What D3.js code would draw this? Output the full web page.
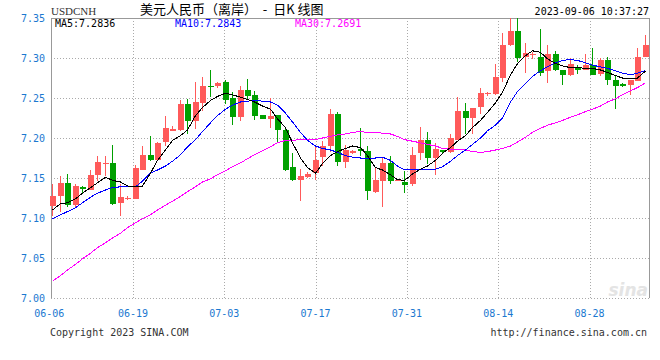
<!DOCTYPE html>
<html>
<head>
<meta charset="utf-8">
<script src="https://cdn.jsdelivr.net/npm/d3@7/dist/d3.min.js"></script>
<style>
  body { margin: 0; background: #fff; }
  svg text { font-family: "DejaVu Sans Mono", monospace; font-size: 10px; }
</style>
</head>
<body>
<div id="chart"></div>
<script>
// daily candles, USDCNH 06-06 .. 09-06
var opens = [7.1154,7.127,7.144,7.1167,7.1387,7.1354,7.1533,7.1686,7.1688,7.1187,
  7.1237,7.1242,7.1604,7.1792,7.1729,7.1946,7.2088,7.2104,7.2429,7.2208,
  7.2437,7.2654,7.2646,7.2696,7.2496,7.2258,7.2604,7.2542,7.2292,7.2242,
  7.2292,7.2104,7.1633,7.1471,7.1508,7.1563,7.1763,7.1896,7.2304,7.1696,
  7.1817,7.1863,7.1842,7.1329,7.1467,7.1688,7.1458,7.145,7.1429,7.1813,
  7.1979,7.1746,7.1854,7.182,7.1979,7.2342,7.2246,7.2383,7.2546,7.255,
  7.2746,7.3163,7.3342,7.3016,7.3033,7.3013,7.2833,7.3054,7.2854,7.2792,
  7.2888,7.2846,7.2917,7.28,7.2971,7.2729,7.2675,7.2667,7.2708,7.3008];
var highs = [7.143,7.153,7.155,7.1429,7.1396,7.1604,7.1779,7.1779,7.1917,7.143,
  7.127,7.1667,7.1896,7.2029,7.1946,7.2279,7.2154,7.247,7.2488,7.2696,
  7.2763,7.2854,7.2704,7.2729,7.2571,7.2654,7.2742,7.2583,7.2292,7.25,
  7.2292,7.2137,7.1813,7.1613,7.1571,7.1896,7.1958,7.2367,7.2321,7.1917,
  7.1854,7.2125,7.1896,7.1638,7.1763,7.1771,7.1471,7.1583,7.1883,7.2133,
  7.2075,7.1938,7.1854,7.2054,7.2513,7.2438,7.2375,7.2625,7.2575,7.2929,
  7.3317,7.3496,7.35,7.3183,7.3071,7.3367,7.3167,7.3083,7.2854,7.30,
  7.2917,7.3054,7.3125,7.30,7.3008,7.2771,7.2688,7.2721,7.3125,7.3283];
var lows = [7.102,7.108,7.114,7.1125,7.1312,7.1354,7.1458,7.1529,7.1158,7.102,
  7.122,7.1242,7.1596,7.1708,7.172,7.1896,7.2083,7.2083,7.205,7.2113,
  7.2333,7.2512,7.2625,7.2429,7.2167,7.2208,7.2479,7.2229,7.2242,7.2125,
  7.1937,7.1583,7.1458,7.1208,7.15,7.1479,7.1654,7.1821,7.1646,7.1625,
  7.18,7.1771,7.1229,7.1313,7.1133,7.1421,7.1458,7.1313,7.1396,7.1729,
  7.1679,7.1533,7.181,7.1813,7.1971,7.2054,7.2054,7.23,7.2529,7.2542,
  7.2704,7.315,7.2954,7.2808,7.2988,7.2771,7.2688,7.2833,7.2667,7.2779,
  7.2804,7.2846,7.2792,7.2771,7.2667,7.2367,7.2633,7.2533,7.2708,7.3008];
var closes = [7.1279,7.144,7.116,7.1404,7.1363,7.1542,7.1696,7.169,7.117,7.1263,
  7.1245,7.162,7.1792,7.1729,7.1937,7.2125,7.2113,7.2429,7.2208,7.2446,
  7.2654,7.2633,7.2688,7.2479,7.2258,7.2604,7.2529,7.2279,7.2242,7.2279,
  7.2096,7.1604,7.1471,7.1529,7.1554,7.1729,7.1904,7.2304,7.1696,7.1854,
  7.1833,7.1833,7.1333,7.1479,7.1688,7.1467,7.1471,7.1408,7.1792,7.1979,
  7.1746,7.1867,7.182,7.1996,7.2342,7.2246,7.2375,7.2563,7.2558,7.2767,
  7.3163,7.3342,7.2996,7.3066,7.3046,7.2813,7.3054,7.2846,7.2792,7.2929,
  7.2846,7.2917,7.2792,7.2971,7.2729,7.2646,7.2646,7.2721,7.3013,7.3167];

// moving averages
var ma5 = [7.110,7.118,7.119,7.124,7.131,7.138,7.144,7.151,7.147,7.145,
  7.140,7.139,7.140,7.156,7.172,7.185,7.197,7.203,7.210,7.228,
  7.238,7.247,7.252,7.256,7.254,7.251,7.248,7.245,7.240,7.236,
  7.224,7.213,7.194,7.175,7.163,7.156,7.168,7.178,7.183,7.187,
  7.190,7.188,7.178,7.163,7.160,7.154,7.148,7.147,7.155,7.161,
  7.165,7.172,7.181,7.188,7.196,7.203,7.213,7.222,7.232,7.244,
  7.257,7.279,7.293,7.303,7.309,7.307,7.299,7.293,7.290,7.288,
  7.288,7.287,7.287,7.285,7.282,7.278,7.275,7.275,7.275,7.2836];
var ma10 = [7.099,7.104,7.108,7.113,7.119,7.126,7.131,7.135,7.138,7.139,
  7.139,7.139,7.146,7.156,7.160,7.165,7.171,7.179,7.189,7.198,
  7.208,7.219,7.228,7.236,7.241,7.245,7.246,7.247,7.246,7.245,
  7.241,7.231,7.220,7.207,7.197,7.190,7.187,7.185,7.182,7.178,
  7.176,7.175,7.175,7.175,7.176,7.172,7.165,7.160,7.161,7.161,
  7.161,7.161,7.164,7.171,7.178,7.185,7.192,7.200,7.209,7.216,
  7.225,7.245,7.258,7.268,7.277,7.284,7.289,7.294,7.297,7.298,
  7.297,7.294,7.291,7.289,7.287,7.284,7.281,7.279,7.281,7.2843];
var ma30 = [7.021,7.028,7.035,7.042,7.049,7.056,7.063,7.069,7.075,7.081,
  7.088,7.094,7.099,7.104,7.110,7.116,7.121,7.127,7.133,7.139,
  7.145,7.149,7.154,7.159,7.164,7.169,7.174,7.179,7.184,7.189,
  7.194,7.197,7.197,7.198,7.198,7.198,7.200,7.202,7.204,7.205,
  7.207,7.208,7.207,7.207,7.206,7.205,7.202,7.198,7.196,7.194,
  7.192,7.190,7.187,7.186,7.186,7.185,7.183,7.182,7.183,7.185,
  7.187,7.190,7.195,7.201,7.207,7.212,7.216,7.219,7.222,7.226,
  7.229,7.233,7.236,7.240,7.245,7.249,7.254,7.259,7.263,7.269];

var tickIndex = [0, 11, 23, 35, 47, 59, 71];
var tickLabels = ["06-06", "06-19", "07-03", "07-17", "07-31", "08-14", "08-28"];
var yTicks = [7.00, 7.05, 7.10, 7.15, 7.20, 7.25, 7.30, 7.35];

var maNames = ["MA5", "MA10", "MA30"];
var maLast = ["7.2836", "7.2843", "7.2691"];

var chartW = 660, chartH = 360;
var plotL = 51, plotR = 649, plotT = 18, plotB = 298;
var upColor = "#ff5a5a", downColor = "#00a000";
var maColors = ["#000000", "#0000ff", "#ff00ff"];

var svg = d3.select("#chart").append("svg")
  .attr("width", chartW)
  .attr("height", chartH);

var x = d3.scaleLinear().domain([0, 79]).range([50, 642.5]);   // candle left edge
var xGrid = d3.scaleLinear().domain([11, 71]).range([133, 589.5]);
var y = d3.scaleLinear().domain([7.00, 7.35]).range([plotB, plotT]);

function px(v) { return Math.round(v) + 0.5; }

// grid
var grid = svg.append("g")
  .attr("stroke", "#aaa")
  .attr("stroke-dasharray", "1,2")
  .attr("shape-rendering", "crispEdges");

grid.selectAll("line.h")
  .data(yTicks.slice(0, -1))
  .enter()
  .append("line")
  .attr("x1", plotL).attr("x2", plotR)
  .attr("y1", function(d) { return px(y(d)); })
  .attr("y2", function(d) { return px(y(d)); });

grid.selectAll("line.v")
  .data(tickIndex.slice(1))
  .enter()
  .append("line")
  .attr("x1", function(d) { return px(xGrid(d)); })
  .attr("x2", function(d) { return px(xGrid(d)); })
  .attr("y1", plotT).attr("y2", plotB);

// frame
svg.append("path")
  .attr("d", "M" + px(plotL) + "," + plotB + "V" + px(plotT) + "H" + px(plotR) + "V" + plotB)
  .attr("fill", "none")
  .attr("stroke", "#999")
  .attr("shape-rendering", "crispEdges");

// watermark
svg.append("text")
  .attr("x", 648).attr("y", 296)
  .attr("text-anchor", "end")
  .style("font-family", "'DejaVu Sans', sans-serif")
  .style("font-size", "17px")
  .style("font-style", "italic")
  .style("font-weight", "bold")
  .attr("fill", "#e4e4e4")
  .text("sina");

// candles
var candles = svg.append("g").attr("shape-rendering", "crispEdges");
var idx = d3.range(opens.length);

function candleColor(i) { return closes[i] >= opens[i] ? upColor : downColor; }

candles.selectAll("line")
  .data(idx)
  .enter()
  .append("line")
  .attr("x1", function(i) { return Math.round(x(i)) + 2.5; })
  .attr("x2", function(i) { return Math.round(x(i)) + 2.5; })
  .attr("y1", function(i) { return y(highs[i]); })
  .attr("y2", function(i) { return y(lows[i]); })
  .attr("stroke", candleColor);

candles.selectAll("rect")
  .data(idx)
  .enter()
  .append("rect")
  .attr("x", function(i) { return Math.round(x(i)); })
  .attr("width", 6)
  .attr("y", function(i) { return y(Math.max(opens[i], closes[i])); })
  .attr("height", function(i) { return Math.max(1, Math.abs(y(opens[i]) - y(closes[i]))); })
  .attr("fill", candleColor);

// moving averages
var line = d3.line()
  .x(function(d, i) { return Math.round(x(i)) + 2.5; })
  .y(function(d) { return y(d); });

[ma30, ma10, ma5].forEach(function(series, k) {
  svg.append("path")
    .datum(series)
    .attr("d", line)
    .attr("fill", "none")
    .attr("stroke", maColors[2 - k])
    .attr("stroke-width", 1)
    .attr("shape-rendering", "crispEdges");
});

// y labels
svg.selectAll("text.ylab")
  .data(yTicks)
  .enter()
  .append("text")
  .attr("x", 45)
  .attr("y", function(d) { return y(d) + 3.5; })
  .attr("text-anchor", "end")
  .attr("fill", "#1b78d0")
  .text(function(d) { return d.toFixed(2); });

// x labels
svg.selectAll("text.xlab")
  .data(tickIndex)
  .enter()
  .append("text")
  .attr("x", function(d) { return xGrid(d); })
  .attr("y", 317)
  .attr("text-anchor", "middle")
  .attr("fill", "#1b78d0")
  .text(function(d, i) { return tickLabels[i]; });

// header
svg.append("text")
  .attr("x", 51).attr("y", 15)
  .style("font-family", "'Liberation Serif', serif")
  .style("font-size", "11px")
  .attr("fill", "#333")
  .text("USDCNH");

svg.append("text")
  .attr("x", 140).attr("y", 14)
  .style("font-family", "'Noto Sans CJK SC', sans-serif")
  .style("font-size", "13px")
  .style("white-space", "pre")
  .attr("fill", "#000")
  .text("美元人民币（离岸）  -  日K 线图");

svg.append("text")
  .attr("x", 649).attr("y", 15)
  .attr("text-anchor", "end")
  .attr("fill", "#000")
  .text("2023-09-06 10:37:27");

svg.selectAll("text.ma")
  .data(maNames)
  .enter()
  .append("text")
  .attr("x", function(d, i) { return [55, 175, 295][i]; })
  .attr("y", 27)
  .attr("fill", function(d, i) { return maColors[i]; })
  .text(function(d, i) { return d + ":" + maLast[i]; });

// footer
svg.append("text")
  .attr("x", 50).attr("y", 336)
  .attr("fill", "#333")
  .text("Copyright 2023 SINA.COM");

svg.append("text")
  .attr("x", 647).attr("y", 336)
  .attr("text-anchor", "end")
  .attr("fill", "#333")
  .text("http://finance.sina.com.cn");
</script>
</body>
</html>
